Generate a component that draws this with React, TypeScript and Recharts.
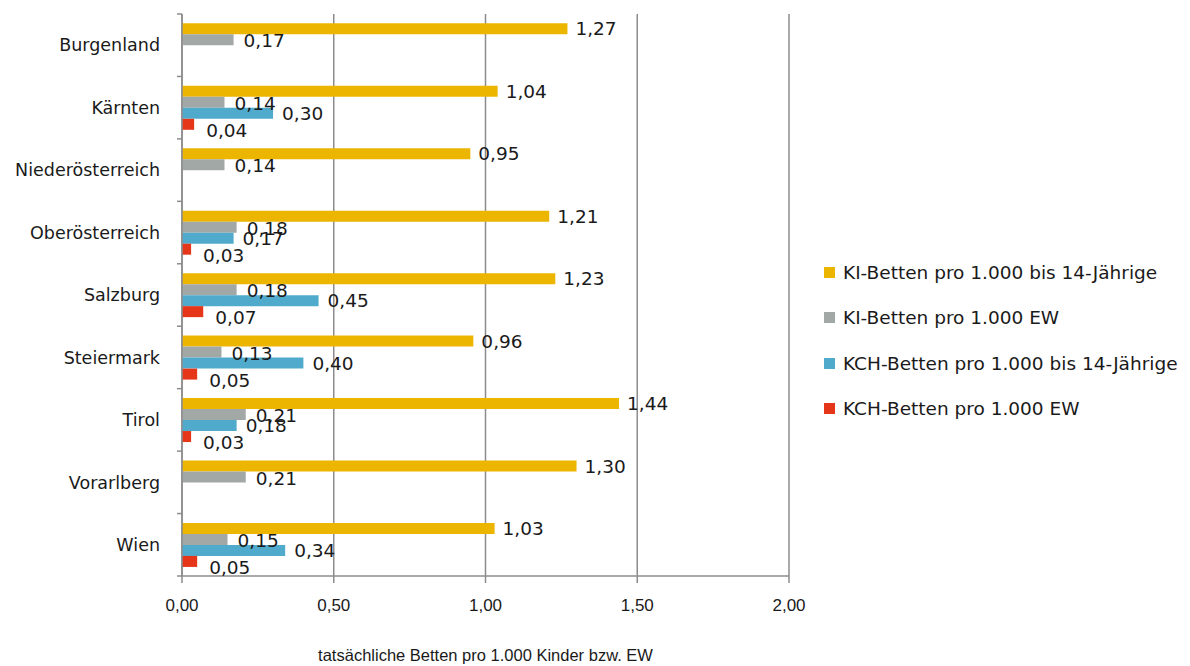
import React from 'react';
import { BarChart, Bar, XAxis, YAxis, CartesianGrid, Legend, LabelList, Label } from 'recharts';

const regions = ['Burgenland', 'Kärnten', 'Niederösterreich', 'Oberösterreich', 'Salzburg', 'Steiermark', 'Tirol', 'Vorarlberg', 'Wien'];
const kiKinder = [1.27, 1.04, 0.95, 1.21, 1.23, 0.96, 1.44, 1.30, 1.03];
const kiEw = [0.17, 0.14, 0.14, 0.18, 0.18, 0.13, 0.21, 0.21, 0.15];
const kchKinder = [null, 0.30, null, 0.17, 0.45, 0.40, 0.18, null, 0.34];
const kchEw = [null, 0.04, null, 0.03, 0.07, 0.05, 0.03, null, 0.05];
const seriesNames = [
  'KI-Betten pro 1.000 bis 14-Jährige',
  'KI-Betten pro 1.000 EW',
  'KCH-Betten pro 1.000 bis 14-Jährige',
  'KCH-Betten pro 1.000 EW',
];
const xTicks = [0, 0.5, 1, 1.5, 2];

const data = regions.map((region, i) => ({
  region,
  kiKinder: kiKinder[i],
  kiEw: kiEw[i],
  kchKinder: kchKinder[i],
  kchEw: kchEw[i],
}));

const GRID = '#8c8c8c';
const TEXT = '#1a1a1a';
const SANS = '"DejaVu Sans", sans-serif';
const NARROW = '"Liberation Sans", sans-serif';
const fmt = (v: number) => v.toFixed(2).replace('.', ',');

const TICK_SIZE = 5;
const TICK_MARGIN = 17;

function CategoryTick(props: any) {
  const { x, y, payload, index, visibleTicksCount } = props;
  const half = payload.offset ?? 0;
  const ax = x + TICK_MARGIN + TICK_SIZE;
  const last = index === (visibleTicksCount ?? regions.length) - 1;
  return (
    <g>
      <line x1={ax - TICK_SIZE} x2={ax} y1={y - half} y2={y - half} stroke={GRID} strokeWidth={1.5} />
      {last && <line x1={ax - TICK_SIZE} x2={ax} y1={y + half} y2={y + half} stroke={GRID} strokeWidth={1.5} />}
      <text x={x} y={y} dy="0.355em" textAnchor="end" fontFamily={SANS} fontSize={17.5} fill={TEXT}>
        {payload.value}
      </text>
    </g>
  );
}

const makeLabel = (dx: number, dy: number) => (p: any) => {
  if (p.value == null) return null;
  return (
    <text x={p.x + p.width + dx} y={p.y + p.height / 2 + dy} dy="0.355em" fontFamily={SANS} fontSize={18.5} fill={TEXT}>
      {fmt(Number(p.value))}
    </text>
  );
};

function renderLegend(props: any) {
  const items = [...props.payload].sort((a: any, b: any) => seriesNames.indexOf(a.value) - seriesNames.indexOf(b.value));
  return (
    <div>
      {items.map((e: any) => (
        <div key={e.value} style={{ height: 45.3, display: 'flex', alignItems: 'center' }}>
          <span style={{ width: 11, height: 11, background: e.color, display: 'inline-block', marginRight: 8 }} />
          <span style={{ fontFamily: SANS, fontSize: 18.5, color: TEXT, whiteSpace: 'nowrap' }}>{e.value}</span>
        </div>
      ))}
    </div>
  );
}

export default function App() {
  return (
    <div style={{ position: 'absolute', left: 0, top: 0, width: 1190, height: 666, background: '#fff' }}>
      <BarChart
        width={1190}
        height={666}
        data={data}
        layout="vertical"
        margin={{ top: 14, right: 401, bottom: 0, left: 0 }}
        barCategoryGap="15%"
        barGap={0}
      >
        <CartesianGrid horizontal={false} stroke={GRID} strokeWidth={1.5} />
        <XAxis
          type="number"
          domain={[0, 2]}
          ticks={xTicks}
          tickFormatter={fmt}
          height={90}
          tickSize={7}
          tickMargin={16}
          axisLine={{ stroke: GRID, strokeWidth: 1.5 }}
          tickLine={{ stroke: GRID, strokeWidth: 1.5 }}
          tick={{ fontFamily: NARROW, fontSize: 17, fill: TEXT }}
        >
          <Label
            value="tatsächliche Betten pro 1.000 Kinder bzw. EW"
            position="insideBottom"
            offset={5}
            style={{ fontFamily: NARROW, fontSize: 16.5, fill: TEXT }}
          />
        </XAxis>
        <YAxis
          type="category"
          dataKey="region"
          width={182}
          tickSize={TICK_SIZE}
          tickMargin={TICK_MARGIN}
          tickLine={false}
          axisLine={{ stroke: GRID, strokeWidth: 1.5 }}
          tick={<CategoryTick />}
          interval={0}
        />
        <Legend
          layout="vertical"
          align="center"
          verticalAlign="middle"
          content={renderLegend}
          wrapperStyle={{ left: 824, top: 250, width: 366 }}
        />
        <Bar dataKey="kiKinder" name={seriesNames[0]} fill="#EBB500" isAnimationActive={false}>
          <LabelList dataKey="kiKinder" content={makeLabel(8, 0)} />
        </Bar>
        <Bar dataKey="kiEw" name={seriesNames[1]} fill="#A2A8A5" isAnimationActive={false}>
          <LabelList dataKey="kiEw" content={makeLabel(10, 1)} />
        </Bar>
        <Bar dataKey="kchKinder" name={seriesNames[2]} fill="#50AACB" isAnimationActive={false}>
          <LabelList dataKey="kchKinder" content={makeLabel(9, 0)} />
        </Bar>
        <Bar dataKey="kchEw" name={seriesNames[3]} fill="#E5361A" isAnimationActive={false}>
          <LabelList dataKey="kchEw" content={makeLabel(12, 6)} />
        </Bar>
      </BarChart>
    </div>
  );
}
